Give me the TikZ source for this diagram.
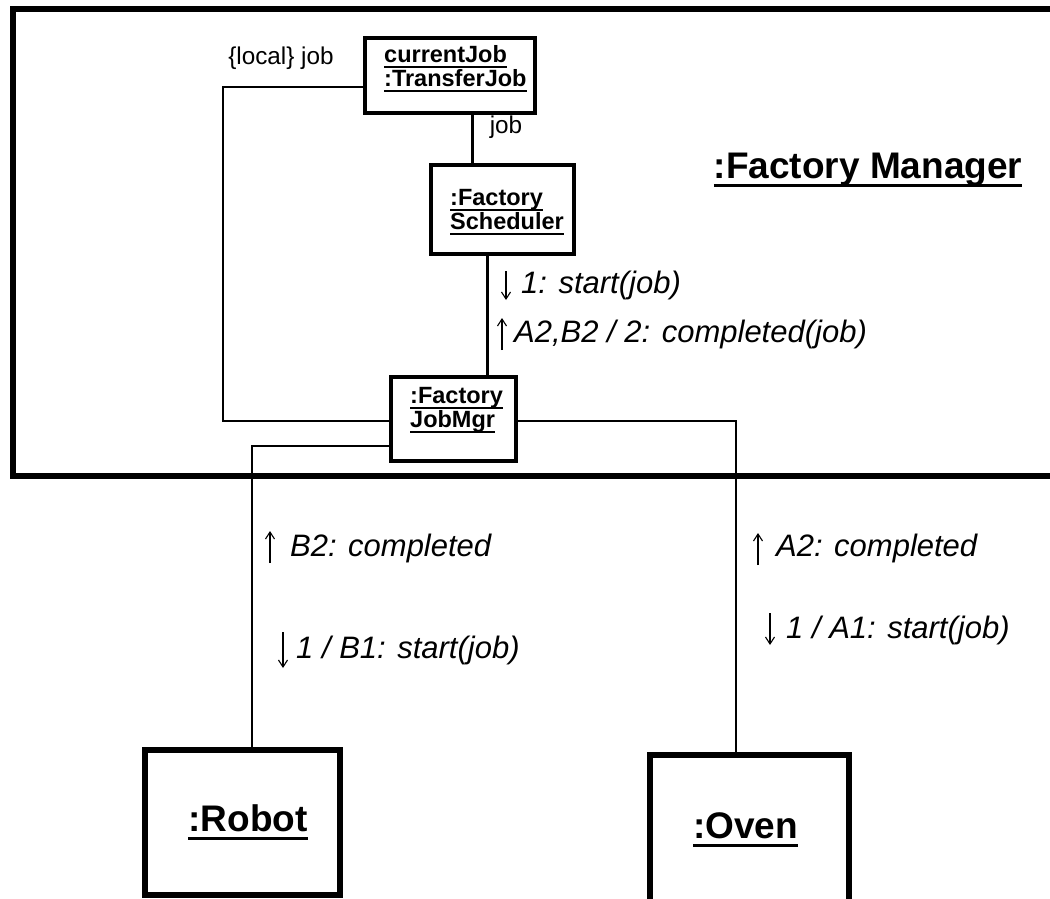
\documentclass[tikz,border=0pt]{standalone}
\usepackage{fontspec}
\setmainfont{Liberation Sans}
\usetikzlibrary{arrows.meta}
\newcommand{\myul}[1]{\setbox0\hbox{#1}\leavevmode\rlap{\rule[-0.23em]{\wd0}{0.085em}}\box0}
\begin{document}
\begin{tikzpicture}[x=1pt,y=-1pt,
  objbox/.style={draw, line width=3.5pt, inner sep=0pt, outer sep=0pt, fill=white},
  bigbox/.style={draw, line width=6pt, inner sep=0pt, outer sep=0pt},
  conn/.style={line width=2pt},
  shortconn/.style={line width=3pt},
  boldlbl/.style={anchor=north west, align=left, inner sep=0pt, font=\fontsize{23.5}{24}\selectfont\bfseries},
  biglbl/.style={inner sep=0pt, font=\fontsize{37}{40}\selectfont\bfseries},
  rolelbl/.style={inner sep=0pt, font=\fontsize{24.3}{26}\selectfont},
  msg/.style={anchor=west, inner sep=0pt, font=\fontsize{31}{34}\selectfont\itshape},
  marrow/.style={line width=1.1pt, -{Straight Barb[length=7pt,width=9pt]}}
]
\useasboundingbox (0,0) rectangle (1050,899);
\begin{scope}
\clip (0,0) rectangle (1050,899);
% outer frame (right side cut off)
\draw[line width=6pt] (1070,9) -- (13,9) -- (13,476) -- (1070,476);

% object boxes
\node[objbox, minimum width=170pt, minimum height=75pt] (cj) at (450,75.5) {};
\node[objbox, minimum width=143pt, minimum height=89pt] (sch) at (502.5,209.5) {};
\node[objbox, minimum width=125pt, minimum height=84pt] (jm) at (453.5,419) {};
\node[bigbox, minimum width=195pt, minimum height=145pt] (robot) at (242.5,822.5) {};
\node[bigbox, minimum width=199pt, minimum height=180pt] (oven) at (749.5,845) {};

% box texts
\node[boldlbl] (cjt) at (384,45) {\myul{currentJob}\\\myul{:TransferJob}};
\node[boldlbl] (scht) at (450,189) {\myul{:Factory}\\\myul{Scheduler}};
\node[boldlbl] (jmt) at (410,387) {\myul{:Factory}\\\myul{JobMgr}};
\node[biglbl] (robt) at (248,822) {\myul{:Robot}};
\node[biglbl] (ovt) at (745.5,830) {\myul{:Oven}};
\node[biglbl] (fmt) at (868,170) {\myul{:Factory Manager}};

% connectors
\draw[conn] ([yshift=-11.5pt]cj.west) -| (223,421) -- ([yshift=-2pt]jm.west);
\draw[shortconn] ([xshift=22pt]cj.south) -- ([xshift=-30.5pt]sch.north);
\draw[shortconn] ([xshift=-15.5pt]sch.south) -- ([xshift=33.5pt]jm.north);
\draw[conn] ([yshift=-2pt]jm.east) -| ([xshift=-13.5pt]oven.north);
\draw[conn] ([yshift=-27pt]jm.west) -| ([xshift=9.5pt]robot.north);

% role labels
\node[rolelbl] (loc) at (281,58) {\{local\} job};
\node[rolelbl] (jobl) at (506,127) {job};

% messages
\draw[marrow] (506,271) -- (506,300);
\node[msg] (m1) at (521,285) {1: start(job)};
\draw[marrow] (502,350) -- (502,318);
\node[msg] (m2) at (514,334) {A2,B2 / 2: completed(job)};
\draw[marrow] (270,563) -- (270,531);
\node[msg] (m3) at (290,548) {B2: completed};
\draw[marrow] (283,632) -- (283,668);
\node[msg] (m4) at (296,650) {1 / B1: start(job)};
\draw[marrow] (758,565) -- (758,533);
\node[msg] (m5) at (776,548) {A2: completed};
\draw[marrow] (770,613) -- (770,645);
\node[msg] (m6) at (786,630) {1 / A1: start(job)};
\end{scope}
\end{tikzpicture}
\end{document}
